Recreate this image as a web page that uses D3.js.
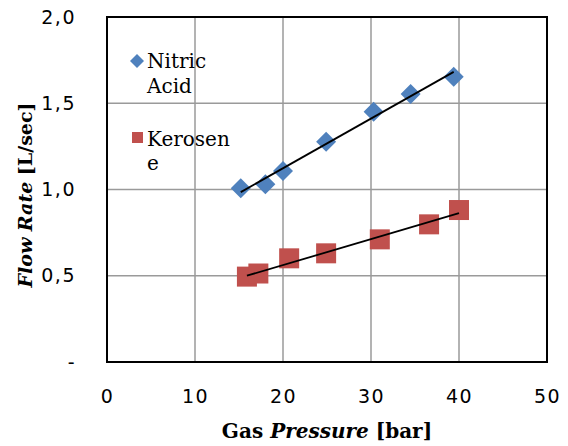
<!DOCTYPE html>
<html>
<head>
<meta charset="utf-8">
<script src="https://cdn.jsdelivr.net/npm/d3@7"></script>
<style>
  body { margin: 0; background: #fff; }
  svg { display: block; }
</style>
</head>
<body>
<svg width="568" height="446"></svg>
<script>
// Data
const nitricX = [15.2, 18.0, 20.0, 24.9, 30.3, 34.5, 39.4];
const nitricY = [1.007, 1.03, 1.107, 1.277, 1.451, 1.554, 1.654];
const keroseneX = [15.9, 17.2, 20.7, 24.9, 31.0, 36.6, 40.0];
const keroseneY = [0.495, 0.513, 0.601, 0.630, 0.711, 0.798, 0.881];
const xTicks = [0, 10, 20, 30, 40, 50];
const yTicks = [0, 0.5, 1.0, 1.5, 2.0];
const yTickLabels = ["-", "0,5", "1,0", "1,5", "2,0"];

const svg = d3.select("svg");
const margin = { top: 17, right: 21, bottom: 84, left: 107 };
const width = 568 - margin.left - margin.right;
const height = 446 - margin.top - margin.bottom;

const g = svg.append("g").attr("transform", `translate(${margin.left},${margin.top})`);

const x = d3.scaleLinear().domain([0, 50]).range([0, width]);
const y = d3.scaleLinear().domain([0, 2]).range([height, 0]);

// Gridlines
g.append("g")
  .selectAll("line")
  .data(xTicks.slice(1, -1))
  .join("line")
  .attr("x1", d => x(d)).attr("x2", d => x(d))
  .attr("y1", 0).attr("y2", height)
  .attr("stroke", "#9a9a9a").attr("stroke-width", 1.5);

g.append("g")
  .selectAll("line")
  .data(yTicks.slice(1, -1))
  .join("line")
  .attr("x1", 0).attr("x2", width)
  .attr("y1", d => y(d)).attr("y2", d => y(d))
  .attr("stroke", "#9a9a9a").attr("stroke-width", 1.5);

// Frame
g.append("rect")
  .attr("width", width).attr("height", height)
  .attr("fill", "none").attr("stroke", "#000").attr("stroke-width", 2);

// Axes (labels only)
const tickFont = "DejaVu Sans, Verdana, sans-serif";
const xAxis = g.append("g")
  .attr("transform", `translate(0,${height})`)
  .call(d3.axisBottom(x).tickValues(xTicks).tickSize(0).tickPadding(28).tickFormat(d3.format("d")));
xAxis.select(".domain").remove();
xAxis.selectAll("text")
  .attr("font-family", tickFont).attr("letter-spacing", 1.5)
  .attr("font-size", 19).attr("fill", "#000");

const yAxis = g.append("g")
  .call(d3.axisLeft(y).tickValues(yTicks).tickSize(0).tickPadding(31)
    .tickFormat((d, i) => yTickLabels[i]));
yAxis.select(".domain").remove();
yAxis.selectAll("text")
  .attr("font-family", tickFont).attr("letter-spacing", 1.5)
  .attr("font-size", 19).attr("fill", "#000");

// Linear trend lines from least squares
function fit(xs, ys) {
  const mx = d3.mean(xs), my = d3.mean(ys);
  const b = d3.sum(xs, (v, i) => (v - mx) * (ys[i] - my)) / d3.sum(xs, v => (v - mx) ** 2);
  return { b, a: my - b * mx };
}

function trend(xs, ys) {
  const f = fit(xs, ys);
  const x0 = d3.min(xs), x1 = d3.max(xs);
  g.append("line")
    .attr("x1", x(x0)).attr("y1", y(f.a + f.b * x0))
    .attr("x2", x(x1)).attr("y2", y(f.a + f.b * x1))
    .attr("stroke", "#000").attr("stroke-width", 1.8);
}

const blue = "#4F81BD";
const red = "#C0504D";

// Kerosene squares
g.append("g")
  .selectAll("rect")
  .data(keroseneX.map((v, i) => [v, keroseneY[i]]))
  .join("rect")
  .attr("x", d => x(d[0]) - 10).attr("y", d => y(d[1]) - 10)
  .attr("width", 20).attr("height", 20)
  .attr("fill", red);

// Nitric acid diamonds
g.append("g")
  .selectAll("path")
  .data(nitricX.map((v, i) => [v, nitricY[i]]))
  .join("path")
  .attr("transform", d => `translate(${x(d[0])},${y(d[1])})`)
  .attr("d", "M0,-10L10,0L0,10L-10,0Z")
  .attr("fill", blue);

trend(nitricX, nitricY);
trend(keroseneX, keroseneY);

// Legend
const legendFont = "DejaVu Serif, Georgia, serif";
svg.append("path")
  .attr("transform", "translate(137,61)")
  .attr("d", "M0,-7L7,0L0,7L-7,0Z")
  .attr("fill", blue);
svg.append("text")
  .attr("x", 147).attr("y", 68)
  .attr("font-family", legendFont).attr("font-size", 20)
  .selectAll("tspan")
  .data(["Nitric", "Acid"])
  .join("tspan")
  .attr("x", 147).attr("dy", (d, i) => i ? 25 : 0)
  .text(d => d);

svg.append("rect")
  .attr("x", 132).attr("y", 132).attr("width", 11).attr("height", 11)
  .attr("fill", red);
svg.append("text")
  .attr("x", 147).attr("y", 146)
  .attr("font-family", legendFont).attr("font-size", 20)
  .selectAll("tspan")
  .data(["Kerosen", "e"])
  .join("tspan")
  .attr("x", 147).attr("dy", (d, i) => i ? 24 : 0)
  .text(d => d);

// Axis titles
const titleFont = "DejaVu Serif, Georgia, serif";
const xTitle = svg.append("text")
  .attr("x", 327).attr("y", 438)
  .attr("text-anchor", "middle")
  .attr("font-family", titleFont).attr("font-size", 20).attr("font-weight", "bold");
xTitle.append("tspan").text("Gas ");
xTitle.append("tspan").attr("font-style", "italic").text("Pressure");
xTitle.append("tspan").text(" [bar]");

const yTitle = svg.append("text")
  .attr("transform", "translate(32,195) rotate(-90)")
  .attr("text-anchor", "middle")
  .attr("font-family", titleFont).attr("font-size", 19).attr("font-weight", "bold");
yTitle.append("tspan").attr("font-style", "italic").text("Flow Rate");
yTitle.append("tspan").text(" [L/sec]");
</script>
</body>
</html>
